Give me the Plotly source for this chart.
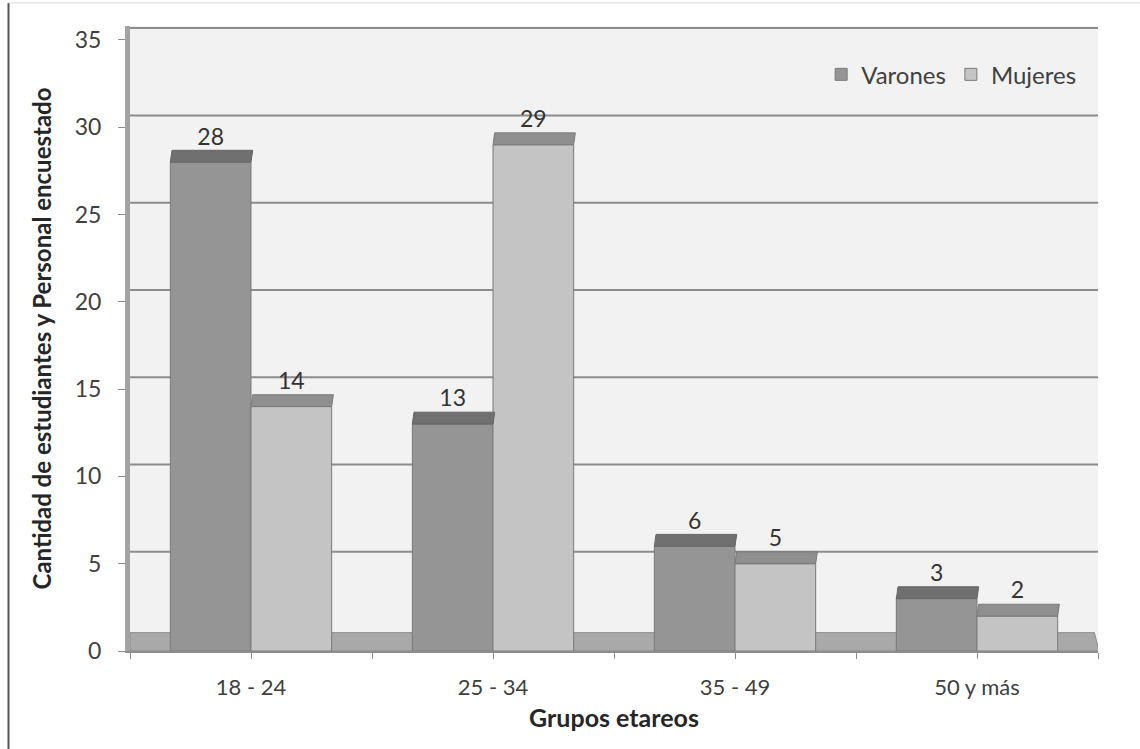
import plotly.graph_objects as go

# Age groups and survey counts
grupos = ["18 - 24", "25 - 34", "35 - 49", "50 y más"]
varones = [28, 13, 6, 3]
mujeres = [14, 29, 5, 2]
y_ticks = [0, 5, 10, 15, 20, 25, 30, 35]

FONT = "Lato"
BAR_W = 1 / 3          # width of each bar in category units
DEPTH = 0.68           # apparent depth of the top face (value units)
SKEW = 0.007           # horizontal shift of the back edge (category units)

C_VAR = "#959595"
C_VAR_TOP = "#707070"
C_MUJ = "#c4c4c4"
C_MUJ_TOP = "#8f8f8f"
C_EDGE = "#7a7a7a"

xs = list(range(len(grupos)))

fig = go.Figure()

fig.add_trace(go.Bar(
    name="Varones", x=xs, y=varones, offset=-BAR_W, width=BAR_W,
    marker=dict(color=C_VAR, line=dict(color=C_EDGE, width=1)),
    hoverinfo="y",
))
fig.add_trace(go.Bar(
    name="Mujeres", x=xs, y=mujeres, offset=0, width=BAR_W,
    marker=dict(color=C_MUJ, line=dict(color=C_EDGE, width=1)),
    hoverinfo="y",
))

# value labels above each bar's top face
lab_x = [x - BAR_W / 2 for x in xs] + [x + BAR_W / 2 for x in xs]
lab_y = varones + mujeres
fig.add_trace(go.Scatter(
    x=lab_x, y=[v + DEPTH for v in lab_y], mode="text",
    text=[str(v) for v in lab_y], textposition="top center",
    textfont=dict(family=FONT, size=23, color="#333333"),
    showlegend=False, hoverinfo="skip", cliponaxis=False,
))

shapes = []

# floor slab
shapes.append(dict(
    type="path", xref="x", yref="y", layer="below",
    path="M -0.5,0 L 3.505,0 L 3.485,1.05 L -0.5,1.05 Z",
    fillcolor="#a9a9a9", line=dict(color="#8a8a8a", width=1),
))

# back-wall gridlines
for v in y_ticks[1:]:
    shapes.append(dict(
        type="line", xref="x", yref="y", layer="below",
        x0=-0.5, x1=3.5, y0=v + DEPTH, y1=v + DEPTH,
        line=dict(color="#8c8c8c", width=2),
    ))

# top faces of the bars
for x, v in zip(xs, varones):
    x0, x1 = x - BAR_W, x
    shapes.append(dict(
        type="path", xref="x", yref="y", layer="above",
        path=(f"M {x0},{v} L {x1},{v} L {x1 + SKEW},{v + DEPTH} "
              f"L {x0 + SKEW},{v + DEPTH} Z"),
        fillcolor=C_VAR_TOP, line=dict(color="#666666", width=1),
    ))
for x, v in zip(xs, mujeres):
    x0, x1 = x, x + BAR_W
    shapes.append(dict(
        type="path", xref="x", yref="y", layer="above",
        path=(f"M {x0},{v} L {x1},{v} L {x1 + SKEW},{v + DEPTH} "
              f"L {x0 + SKEW},{v + DEPTH} Z"),
        fillcolor=C_MUJ_TOP, line=dict(color="#7a7a7a", width=1),
    ))

# outer chart frame
shapes.append(dict(type="line", xref="paper", yref="paper",
                   x0=-0.1255, x1=-0.1255, y0=-0.16, y1=1.037,
                   line=dict(color="#555555", width=2)))
shapes.append(dict(type="line", xref="paper", yref="paper",
                   x0=-0.1255, x1=1.05, y0=1.037, y1=1.037,
                   line=dict(color="#d9d9d9", width=1)))

fig.update_layout(
    width=1140, height=749,
    margin=dict(l=130, r=42, t=26, b=98),
    paper_bgcolor="white",
    plot_bgcolor="#f2f2f2",
    barmode="overlay",
    shapes=shapes,
    font=dict(family=FONT, color="#404040"),
    legend=dict(
        orientation="h", x=0.714, y=0.958, xanchor="left", yanchor="top",
        bgcolor="rgba(0,0,0,0)", font=dict(family=FONT, size=24, color="#404040"),
        itemwidth=30,
    ),
    showlegend=True,
)

fig.update_xaxes(
    range=[-0.5, 3.5],
    tickvals=xs, ticktext=grupos,
    ticks="outside", ticklen=6, tickcolor="#8c8c8c", tickwidth=1,
    minor=dict(tick0=-0.5, dtick=1, ticks="outside", ticklen=6,
               tickcolor="#8c8c8c", tickwidth=1),
    showline=True, linecolor="#8c8c8c", linewidth=2,
    showgrid=False, zeroline=False,
    ticklabelstandoff=10,
    tickfont=dict(family=FONT, size=22, color="#404040"),
    title=dict(text="<b>Grupos etareos</b>", standoff=10,
               font=dict(family=FONT, size=25, color="#262626")),
)
fig.update_yaxes(
    range=[0, 35.8],
    tickvals=y_ticks,
    ticks="outside", ticklen=7, tickcolor="#8c8c8c", tickwidth=1,
    showline=True, linecolor="#a3a3a3", linewidth=5,
    showgrid=False, zeroline=False,
    ticklabelstandoff=12,
    tickfont=dict(family=FONT, size=23, color="#404040"),
    title=dict(text="<b>Cantidad de estudiantes y Personal encuestado</b>",
               standoff=18, font=dict(family=FONT, size=24, color="#262626")),
)

fig.write_html("out.html")
